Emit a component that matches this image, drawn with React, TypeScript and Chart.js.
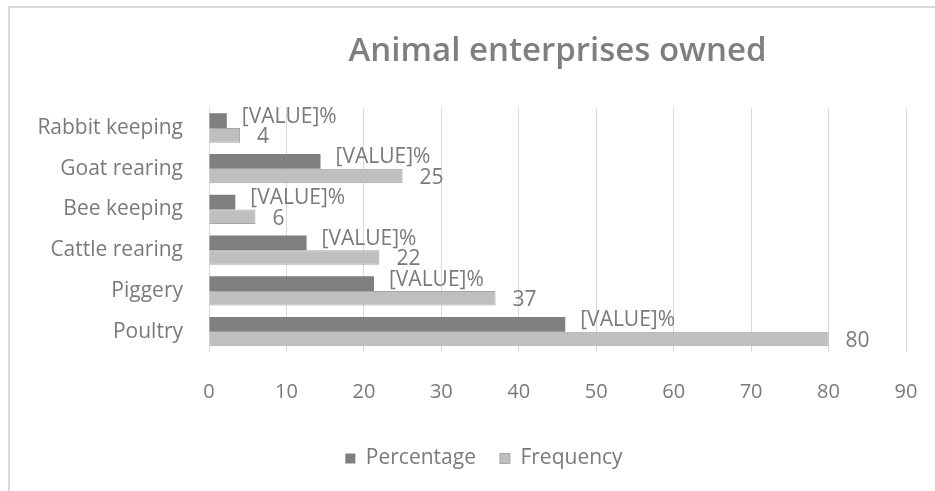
import React, { useEffect, useRef } from "react";
import { Chart, registerables } from "chart.js";

Chart.register(...registerables);

const categories = ["Rabbit keeping", "Goat rearing", "Bee keeping", "Cattle rearing", "Piggery", "Poultry"];
const percentage = [2.3, 14.4, 3.4, 12.6, 21.3, 46.0];
const frequency = [4, 25, 6, 22, 37, 80];
const percentLabel = "[VALUE]%";
const seriesNames = ["Percentage", "Frequency"];
const xMin = 0;
const xMax = 90;
const xStep = 10;
const titleText = "Animal enterprises owned";

const FONT = "'Open Sans', 'DejaVu Sans', sans-serif";
const TEXT = "#7a7a7a";

const framePlugin = {
  id: "frame",
  beforeDraw(chart: any) {
    const ctx = chart.ctx;
    ctx.save();
    ctx.fillStyle = "#ffffff";
    ctx.fillRect(0, 0, chart.width, chart.height);
    ctx.strokeStyle = "#d9d9d9";
    ctx.lineWidth = 2;
    ctx.beginPath();
    ctx.moveTo(9, chart.height);
    ctx.lineTo(9, 7);
    ctx.lineTo(chart.width, 7);
    ctx.stroke();
    ctx.restore();
  },
};

// let the category labels extend left of the (narrow) y scale box
const unclipPlugin = {
  id: "unclipY",
  afterLayout(chart: any) {
    const y = chart.scales.y;
    if (y) y.left = 0;
  },
};

const labelPlugin = {
  id: "barLabels",
  afterDatasetsDraw(chart: any) {
    const ctx = chart.ctx;
    ctx.save();
    ctx.font = `21px ${FONT}`;
    ctx.fillStyle = TEXT;
    ctx.textAlign = "left";
    ctx.textBaseline = "middle";
    chart.data.datasets.forEach((ds: any, i: number) => {
      const meta = chart.getDatasetMeta(i);
      meta.data.forEach((bar: any, j: number) => {
        const { x, y } = bar.getProps(["x", "y"], true);
        const text = i === 0 ? percentLabel : String(ds.data[j]);
        ctx.fillText(text, x + (i === 0 ? 15 : 17), y + (i === 0 ? -4 : 2));
      });
    });
    ctx.restore();
  },
};

export default function App() {
  const ref = useRef<HTMLCanvasElement | null>(null);

  useEffect(() => {
    if (!ref.current) return;
    const chart = new Chart(ref.current, {
      type: "bar",
      data: {
        labels: categories,
        datasets: [
          {
            label: seriesNames[0],
            data: percentage,
            backgroundColor: "#7f7f7f",
            borderColor: "#7f7f7f",
            borderWidth: 0,
            categoryPercentage: 0.72,
            barPercentage: 1,
          },
          {
            label: seriesNames[1],
            data: frequency,
            backgroundColor: "#bfbfbf",
            borderColor: "#a6a6a6",
            borderWidth: 1,
            categoryPercentage: 0.72,
            barPercentage: 1,
          },
        ],
      },
      options: {
        indexAxis: "y",
        responsive: false,
        animation: false,
        layout: { padding: { left: 62, right: 29, top: 0, bottom: 12 } },
        scales: {
          x: {
            min: xMin,
            max: xMax,
            ticks: { stepSize: xStep, padding: 28, color: TEXT, font: { family: FONT, size: 20 } },
            grid: { color: "#d9d9d9", drawTicks: false },
            border: { display: false },
            afterFit(scale: any) {
              scale.height = 72;
              scale.paddingLeft = 0;
              scale.paddingRight = 0;
            },
          },
          y: {
            ticks: { padding: 26, color: TEXT, font: { family: FONT, size: 21 } },
            grid: { display: false, drawTicks: false },
            border: { display: false },
            afterFit(scale: any) {
              scale.width = 147;
            },
          },
        },
        plugins: {
          title: {
            display: true,
            text: titleText,
            fullSize: false,
            color: "#7f7f7f",
            font: { family: FONT, size: 33, weight: "600" },
            padding: { top: 32, bottom: 36 },
          },
          legend: {
            position: "bottom",
            labels: {
              boxWidth: 10,
              boxHeight: 10,
              padding: 24,
              color: TEXT,
              font: { family: FONT, size: 21 },
            },
          },
          tooltip: { enabled: false },
        },
      },
      plugins: [framePlugin, unclipPlugin, labelPlugin],
    } as any);
    return () => chart.destroy();
  }, []);

  return (
    <canvas
      ref={ref}
      width={935}
      height={491}
      style={{ position: "fixed", left: 0, top: 0, display: "block" }}
    />
  );
}
